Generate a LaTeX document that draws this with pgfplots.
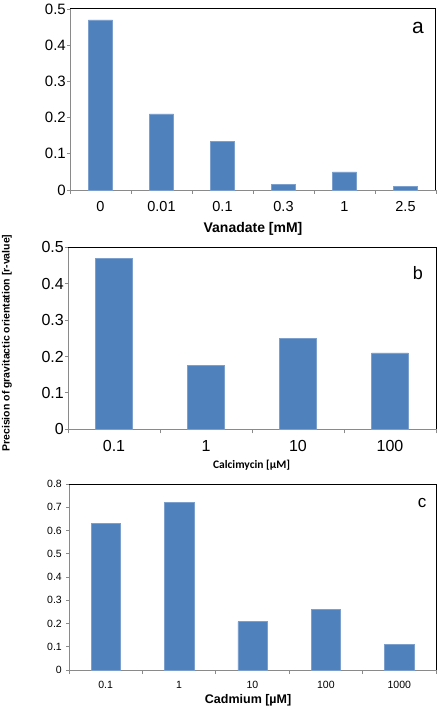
\documentclass[border=0pt]{standalone}
\usepackage{pgfplots}
\pgfplotsset{compat=1.18}
\usepackage{fontspec}
\setmainfont{Liberation Sans}
\newfontfamily\carlito{Carlito}
\definecolor{barblue}{HTML}{4F81BD}
\definecolor{axgray}{HTML}{8A8A8A}
\pgfplotsset{
  panel/.style={
    scale only axis,
    anchor=south west,
    axis x line*=bottom,
    axis y line*=left,
    axis line style={axgray, line width=0.8pt},
    tick align=outside,
    major tick length=3pt,
    minor tick length=4pt,
    tick style={axgray, line width=0.8pt},
    major x tick style={draw=none},
    ymin=0,
    ybar,
    bar width=0.4,
    /pgf/number format/assume math mode=true,
    /pgf/number format/fixed,
    /pgf/number format/precision=1,
    yticklabel style={inner sep=1pt},
    xticklabel style={anchor=base, inner sep=0pt},
    xlabel style={anchor=center, font=\bfseries},
    clip=false,
  },
  bars/.style={fill=barblue, draw=barblue!75!white, line width=0.4pt},
}
\begin{document}
\begin{tikzpicture}
\useasboundingbox (0,0) rectangle (440pt,710pt);
% ---------- panel a
\begin{axis}[panel,
  at={(70pt,520pt)}, width=366pt, height=181pt,
  xmin=-0.5, xmax=5.5, ymax=0.5,
  ytick={0,0.1,...,0.5},
  xtick={0,...,5},
  xticklabels={0,0.01,0.1,0.3,1,2.5},
  minor xtick={-0.5,0.5,...,5.5},
  yticklabel style={font=\fontsize{15}{15}\selectfont},
  xticklabel style={font=\fontsize{14.5}{15}\selectfont, yshift=-19pt},
  xlabel={Vanadate [mM]},
  xlabel style={at={(axis description cs:0.5,-0.214)}, font=\fontsize{14}{14}\selectfont\bfseries},
]
\addplot[bars] coordinates {(0,0.47) (1,0.21) (2,0.134) (3,0.016) (4,0.05) (5,0.01)};
\draw[black, line width=1pt] (rel axis cs:0,1) -- (rel axis cs:1,1) -- (rel axis cs:1,0);
\node[font=\fontsize{21}{21}\selectfont] at (axis description cs:0.951,0.895) {a};
\end{axis}
% ---------- panel b
\begin{axis}[panel,
  at={(68pt,280.7pt)}, width=368pt, height=182pt,
  xmin=-0.5, xmax=3.5, ymax=0.5,
  ytick={0,0.1,...,0.5},
  xtick={0,...,3},
  xticklabels={0.1,1,10,100},
  minor xtick={-0.5,0.5,...,3.5},
  yticklabel style={font=\fontsize{16}{16}\selectfont},
  xticklabel style={font=\fontsize{16}{16}\selectfont, yshift=-19.5pt},
  xlabel={\carlito\bfseries Calcimycin [µM]},
  xlabel style={at={(axis description cs:0.499,-0.196)}, font=\fontsize{11.5}{11.5}\selectfont},
  ylabel={Precision of gravitactic orientation [r-value]},
  ylabel style={at={(axis description cs:-0.166,0.474)}, anchor=center, font=\fontsize{10.5}{10.5}\selectfont\bfseries},
]
\addplot[bars] coordinates {(0,0.47) (1,0.175) (2,0.25) (3,0.21)};
\draw[black, line width=1pt] (rel axis cs:0,1) -- (rel axis cs:1,1) -- (rel axis cs:1,0);
\node[font=\fontsize{18}{18}\selectfont] at (axis description cs:0.951,0.859) {b};
\end{axis}
% ---------- panel c
\begin{axis}[panel,
  at={(69pt,40pt)}, width=367pt, height=186pt,
  xmin=-0.5, xmax=4.5, ymax=0.8,
  ytick={0,0.1,...,0.8},
  xtick={0,...,4},
  xticklabels={0.1,1,10,100,1000},
  minor xtick={-0.5,0.5,...,4.5},
  yticklabel style={font=\fontsize{10.5}{10.5}\selectfont, xshift=-3pt},
  xticklabel style={font=\fontsize{10.5}{10.5}\selectfont, yshift=-15pt},
  xlabel={Cadmium [µM]},
  xlabel style={at={(axis description cs:0.488,-0.161)}, font=\fontsize{12.5}{12.5}\selectfont\bfseries},
]
\addplot[bars] coordinates {(0,0.63) (1,0.72) (2,0.208) (3,0.26) (4,0.11)};
\draw[black, line width=1pt] (rel axis cs:0,1) -- (rel axis cs:1,1) -- (rel axis cs:1,0);
\node[font=\fontsize{17}{17}\selectfont] at (axis description cs:0.962,0.898) {c};
\end{axis}
\end{tikzpicture}
\end{document}
